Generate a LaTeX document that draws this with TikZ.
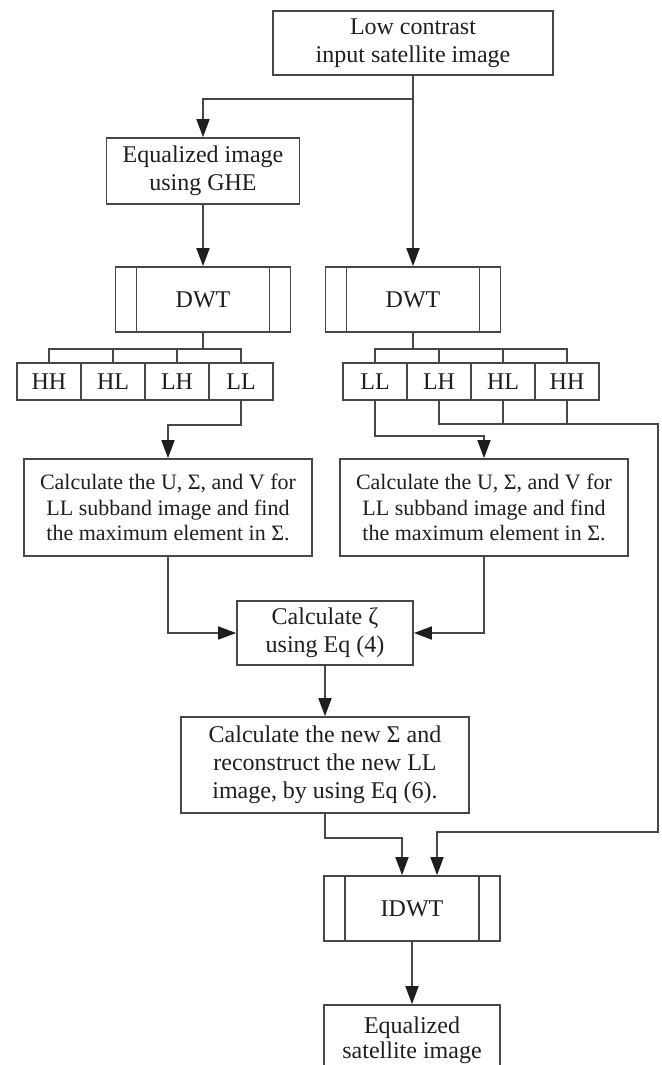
\documentclass[tikz,border=0pt]{standalone}
\usepackage{fontspec}
\setmainfont{Liberation Serif}
\usepackage{xcolor}
\usepackage{tikz}
\usetikzlibrary{arrows.meta}

\definecolor{linegray}{HTML}{474747}
\definecolor{textgray}{HTML}{1E1E1E}

\begin{document}
\begin{tikzpicture}[x=0.5pt, y=-0.5pt,
  >={Triangle[length=9pt,width=6.5pt,color=textgray]},
  line width=0.85pt, color=linegray,
  box/.style={draw=linegray, text=textgray, align=center, inner sep=0pt,
    font=\fontsize{12}{14}\selectfont},
  calcbox/.style={box, minimum width=144pt, minimum height=48.5pt,
    font=\fontsize{11}{12.6}\selectfont},
  band/.style={box, minimum width=32pt, minimum height=18.5pt},
  dwt/.style={box, minimum width=87.5pt, minimum height=32.5pt,
    path picture={
      \draw [linegray] ([xshift=10.5pt]path picture bounding box.north west)
        -- ([xshift=10.5pt]path picture bounding box.south west);
      \draw [linegray] ([xshift=-10.5pt]path picture bounding box.north east)
        -- ([xshift=-10.5pt]path picture bounding box.south east);}}]

\useasboundingbox (0,0) rectangle (662,1065);

\node [box, minimum width=140pt, minimum height=32pt] (input) at (413,43)
  {Low contrast\\input satellite image};
\node [box, minimum width=96.5pt, minimum height=33pt] (ghe) at (203,171)
  {Equalized image\\using GHE};

\node [dwt] (dwtL) at (203,299.5) {DWT};
\node [dwt] (dwtR) at (413,299.5) {DWT};

\foreach \l [count=\i] in {HH,HL,LH,LL}
  \node [band] (bandL-\i) at (-15+\i*64,381.5) {\l};

\foreach \l [count=\i] in {LL,LH,HL,HH}
  \node [band] (bandR-\i) at (311+\i*64,381.5) {\l};

\node [calcbox] (calcL) at (168,507.5)
  {Calculate the U, Σ, and V for\\LL subband image and find\\the maximum element in Σ.};
\node [calcbox] (calcR) at (484,507.5)
  {Calculate the U, Σ, and V for\\LL subband image and find\\the maximum element in Σ.};

\node [box, minimum width=88pt, minimum height=32pt] (zeta) at (325,633)
  {Calculate ζ\\using Eq (4)};
\node [box, minimum width=144pt, minimum height=48pt] (sigma) at (325,765)
  {Calculate the new Σ and\\reconstruct the new LL\\image, by using Eq (6).};

\node [dwt, minimum width=88pt] (idwt) at (412,908.5) {IDWT};
\node [box, minimum width=88pt, minimum height=35pt,
  font=\fontsize{12}{12.5}\selectfont] (output) at (412,1040)
  {Equalized\\satellite image};

\coordinate (split) at (413,99);
\coordinate (bus) at (658,424);
\coordinate (busdown) at (658,832);

% input to both branches
\draw [->] (input.south) -- (dwtR.north);
\draw [->] (split) -| (ghe.north);
\draw [->] (ghe.south) -- (dwtL.north);

% subbands
\foreach \i in {1,...,4}
  \draw (dwtL.south) -- ++(0,16) -| (bandL-\i.north);
\foreach \i in {1,...,4}
  \draw (dwtR.south) -- ++(0,16) -| (bandR-\i.north);

\draw [->] (bandL-4.south) -- ++(0,24) -| (calcL.north);
\draw [->] (bandR-1.south) -- ++(0,35) -| (calcR.north);

\draw [->] (bandR-2.south) |- (bus) -- (busdown) -| ([xshift=12.5pt]idwt.north);
\foreach \i in {3,4}
  \draw (bandR-\i.south) -- ++(0,24);

\draw [->] (calcL.south) |- (zeta.west);
\draw [->] (calcR.south) |- (zeta.east);
\draw [->] (zeta.south) -- (sigma.north);
\draw [->] (sigma.south) -- ++(0,24) -| ([xshift=-5pt]idwt.north);
\draw [->] (idwt.south) -- (output.north);
\end{tikzpicture}
\end{document}
